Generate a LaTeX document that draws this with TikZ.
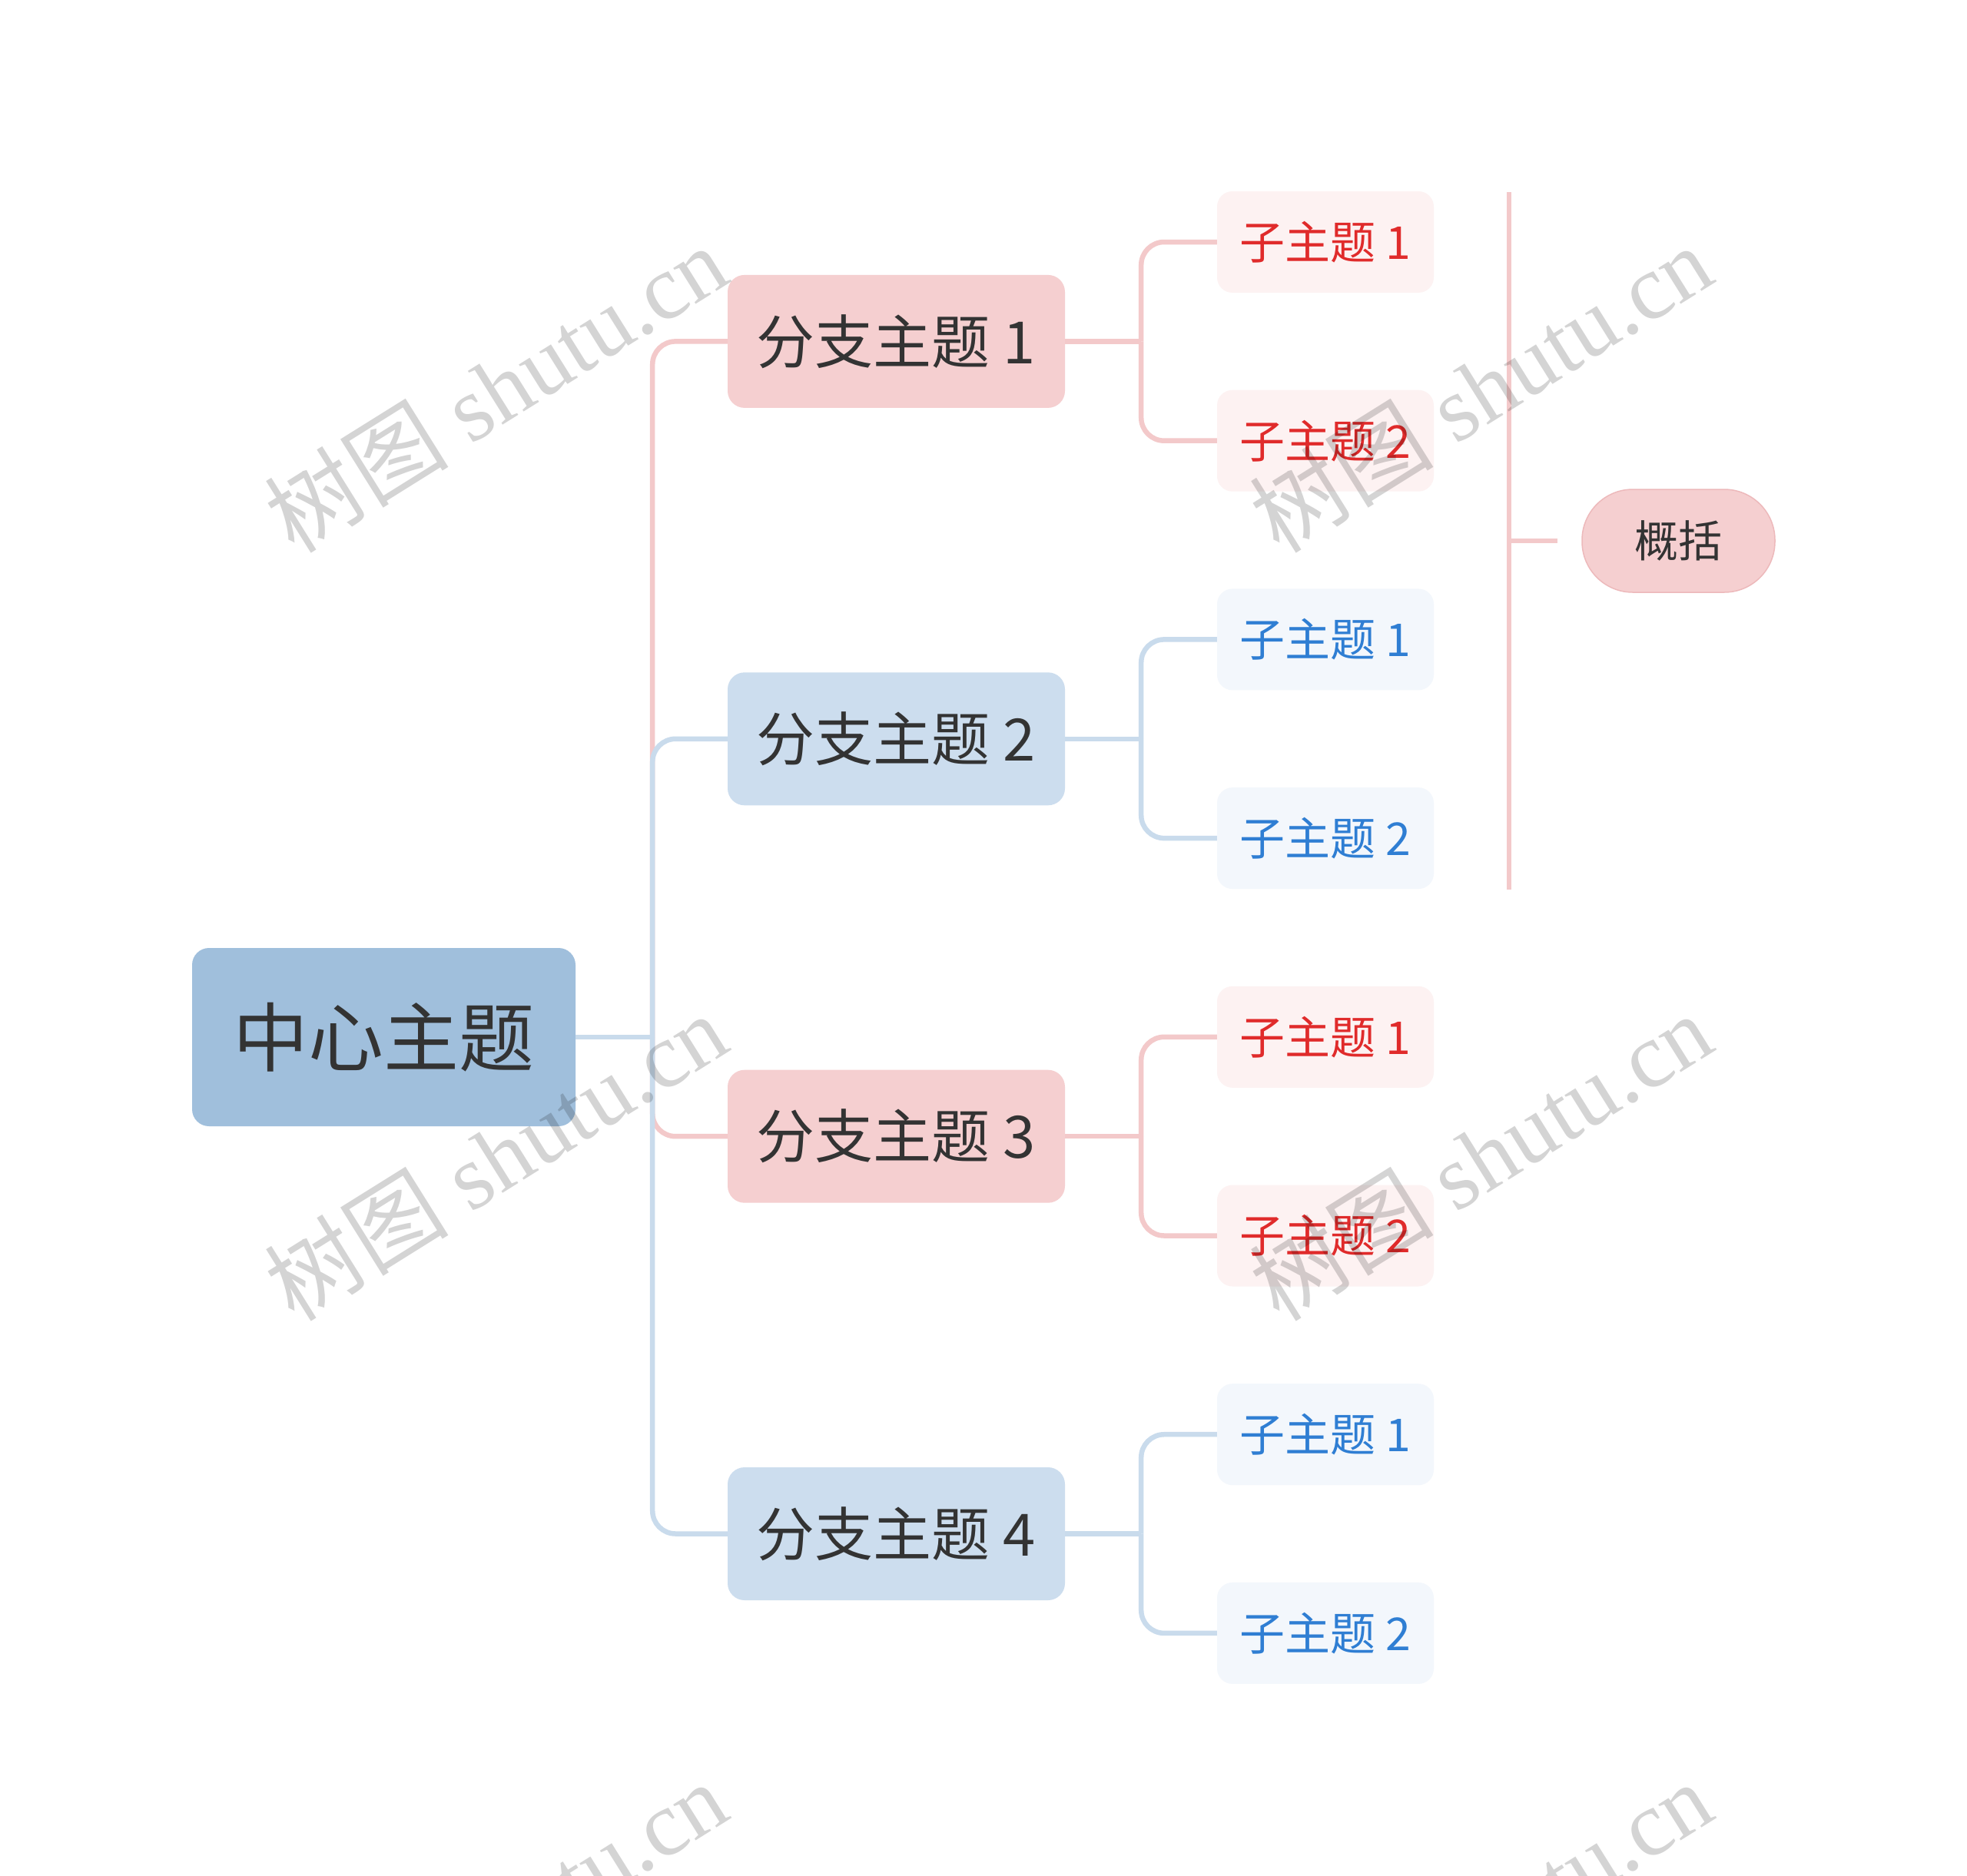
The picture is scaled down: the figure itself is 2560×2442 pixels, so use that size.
\documentclass[tikz,border=0pt]{standalone}
\usepackage{fontspec}
\newfontfamily\cjk{Noto Sans CJK SC}
\newfontfamily\wmfont{Liberation Serif}
\usetikzlibrary{calc}
\definecolor{cCentral}{HTML}{A0BFDC}
\definecolor{cBranchPink}{HTML}{F5CFD0}
\definecolor{cBranchBlue}{HTML}{CCDDEE}
\definecolor{cSubPink}{HTML}{FDF2F2}
\definecolor{cSubBlue}{HTML}{F3F7FC}
\definecolor{cRed}{HTML}{E02B2B}
\definecolor{cBlue}{HTML}{2F7ED3}
\definecolor{cLinePink}{HTML}{F3C9CA}
\definecolor{cLineBlue}{HTML}{C9DBEC}
\definecolor{cText}{HTML}{333333}
\definecolor{cSumBorder}{HTML}{EDB9BB}
\tikzset{
  central/.style={rectangle, rounded corners=22, fill=cCentral, minimum width=499, minimum height=232, inner sep=0, text=cText, font=\cjk\fontsize{98}{110}\selectfont},
  branchbase/.style={rectangle, rounded corners=22, minimum width=439, minimum height=173, inner sep=0, text=cText, font=\cjk\fontsize{76}{90}\selectfont},
  branchP/.style={branchbase, fill=cBranchPink},
  branchB/.style={branchbase, fill=cBranchBlue},
  subbase/.style={rectangle, rounded corners=20, minimum width=282, minimum height=132, inner sep=0, font=\cjk\fontsize{59}{70}\selectfont},
  subP/.style={subbase, fill=cSubPink, text=cRed},
  subB/.style={subbase, fill=cSubBlue, text=cBlue},
  summary/.style={rectangle, rounded corners=66, fill=cBranchPink, draw=cSumBorder, line width=1.5, minimum width=251, minimum height=134, inner sep=0, text=cText, font=\cjk\fontsize{57}{68}\selectfont},
  pinkline/.style={draw=cLinePink, line width=6.5, rounded corners=30},
  blueline/.style={draw=cLineBlue, line width=6.5, rounded corners=30},
  watermark/.style={rotate=32, text=black, text opacity=0.17, inner sep=0},
}
\begin{document}
\begin{tikzpicture}[x=1pt,y=-1pt]
\useasboundingbox (0,0) rectangle (2560,2442);
\fill[white] (0,0) rectangle (2560,2442);

% nodes
\node[central] (C) at (499.5,1350) {中心主题};
\node[branchP] (B1) at (1166.5,444.4) {分支主题 1};
\node[branchB] (B2) at (1166.5,961.8) {分支主题 2};
\node[branchP] (B3) at (1166.5,1479.2) {分支主题 3};
\node[branchB] (B4) at (1166.5,1996.5) {分支主题 4};

\node[subP] (S11) at (1725,315) {子主题 1};
\node[subP] (S12) at (1725,573.7) {子主题 2};
\node[subB] (S21) at (1725,832.4) {子主题 1};
\node[subB] (S22) at (1725,1091.1) {子主题 2};
\node[subP] (S31) at (1725,1349.8) {子主题 1};
\node[subP] (S32) at (1725,1608.5) {子主题 2};
\node[subB] (S41) at (1725,1867.2) {子主题 1};
\node[subB] (S42) at (1725,2125.9) {子主题 2};

\node[summary] (SUM) at (2184.5,704) {概括};

% junctions
\coordinate (J) at ($(C.east)+(100,0)$);
\coordinate (K1) at ($(B1.east)+(99,0)$);
\coordinate (K2) at ($(B2.east)+(99,0)$);
\coordinate (K3) at ($(B3.east)+(99,0)$);
\coordinate (K4) at ($(B4.east)+(99,0)$);

% pink connectors
\draw[pinkline] (J) |- (B1.west);
\draw[pinkline] (J) |- (B3.west);
\draw[pinkline] (B1.east) -- (K1);
\draw[pinkline] (K1) |- (S11.west);
\draw[pinkline] (K1) |- (S12.west);
\draw[pinkline] (B3.east) -- (K3);
\draw[pinkline] (K3) |- (S31.west);
\draw[pinkline] (K3) |- (S32.west);

% blue connectors
\draw[blueline] (C.east) -- (J);
\draw[blueline] (J) |- (B2.west);
\draw[blueline] (J) |- (B4.west);
\draw[blueline] (B2.east) -- (K2);
\draw[blueline] (K2) |- (S21.west);
\draw[blueline] (K2) |- (S22.west);
\draw[blueline] (B4.east) -- (K4);
\draw[blueline] (K4) |- (S41.west);
\draw[blueline] (K4) |- (S42.west);

% summary bracket
\coordinate (BRtop) at (1964,250);
\coordinate (BRbot) at (1964,1158);
\coordinate (BRmid) at (1964,704);
\coordinate (BRtip) at (2027,704);
\draw[draw=cLinePink, line width=6.5] (BRtop) -- (BRbot);
\draw[draw=cLinePink, line width=6.5] (BRmid) -- (BRtip);

% watermarks
\begin{scope}
\clip (0,0) rectangle (2560,2442);
\foreach \wx/\wy in {645/505, 1927/505, 645/1505, 1927/1505, 645/2505, 1927/2505}{
  \node[watermark] at (\wx,\wy) {\fontsize{120}{132}\selectfont\cjk 树图\hspace{0.25em}\wmfont shutu.cn};
}
\end{scope}
\end{tikzpicture}
\end{document}
